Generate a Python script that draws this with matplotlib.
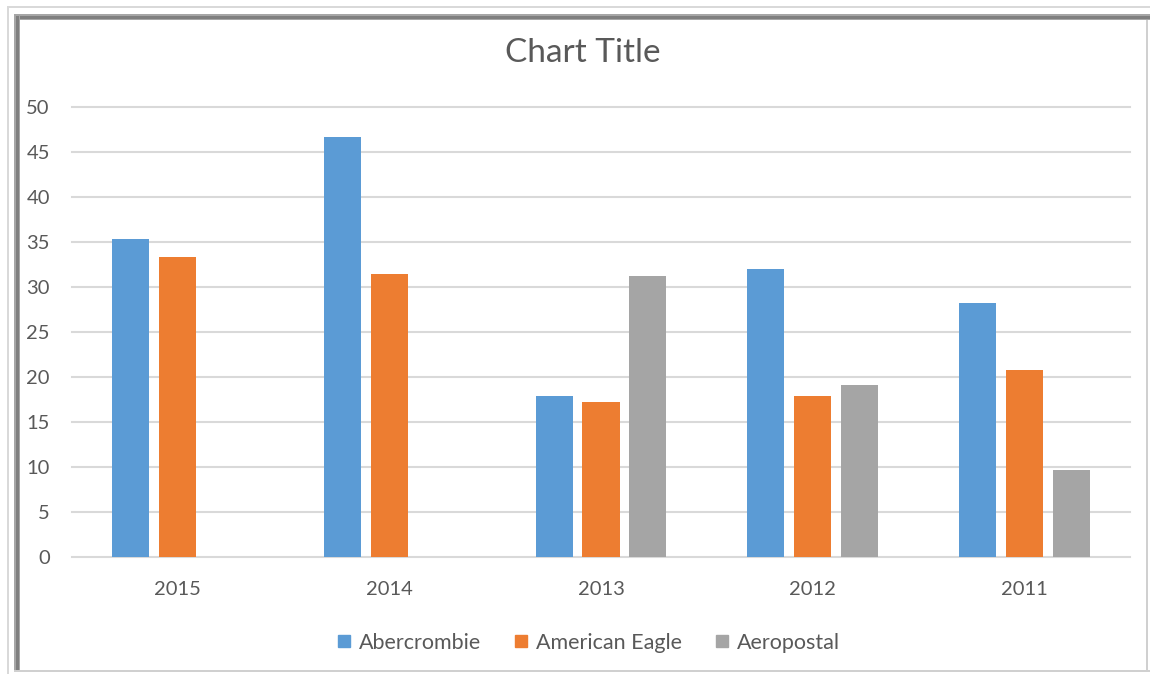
import matplotlib.pyplot as plt
import numpy as np
from matplotlib.lines import Line2D
from matplotlib.patches import Rectangle

years = ["2015", "2014", "2013", "2012", "2011"]
abercrombie = [35.3, 46.7, 17.9, 32.0, 28.2]
american_eagle = [33.3, 31.4, 17.2, 17.9, 20.8]
aeropostal = [0, 0, 31.2, 19.1, 9.7]

series = [
    ("Abercrombie", abercrombie, "#5B9BD5"),
    ("American Eagle", american_eagle, "#ED7D31"),
    ("Aeropostal", aeropostal, "#A5A5A5"),
]

plt.rcParams["font.family"] = ["Lato", "DejaVu Sans"]
text_color = "#595959"

W, H = 1150, 674
fig = plt.figure(figsize=(W / 100, H / 100), dpi=100)

# picture frame
def px(x0, y0, w, h, color, z=0):
    fig.add_artist(Rectangle((x0 / W, 1 - (y0 + h) / H), w / W, h / H,
                             transform=fig.transFigure, color=color, lw=0, zorder=z))

px(7, 6, 1143, 2, "#D9D9D9")
px(7, 6, 2, 668, "#D9D9D9")
px(14, 14, 1136, 6, "#A6A6A6")
px(16, 16, 1134, 3, "#7F7F7F")
px(14, 14, 6, 658, "#A6A6A6")
px(16, 16, 3, 654, "#7F7F7F")
px(1146, 20, 2, 652, "#D0D0D0")
px(14, 670, 1136, 2, "#D0D0D0")

ax = fig.add_axes([72 / W, (H - 557) / H, (1130 - 72) / W, (557 - 107) / H])

x = np.arange(len(years))
width = 0.175
step = 0.222
for i, (name, vals, color) in enumerate(series):
    ax.bar(x + (i - 1) * step, vals, width, color=color, label=name, zorder=3)

ax.set_xlim(-0.5, len(years) - 0.5)
ax.set_ylim(0, 50)
ax.set_yticks(range(0, 51, 5))
ax.set_xticks(x)
ax.set_xticklabels(years)
ax.grid(axis="y", color="#D9D9D9", linewidth=1.5, zorder=0)
for gl in ax.get_ygridlines():
    gl.set_clip_on(False)
for s in ax.spines.values():
    s.set_visible(False)
ax.tick_params(axis="both", length=0, labelsize=14.5, labelcolor=text_color)
ax.tick_params(axis="y", pad=16)
ax.tick_params(axis="x", pad=17)

fig.text(583 / W, 1 - 53 / H, "Chart Title", ha="center", va="center",
         fontsize=24, color=text_color)

handles = [Line2D([], [], marker="s", linestyle="none", markersize=9,
                  markerfacecolor=c, markeredgecolor=c) for _, _, c in series]
fig.legend(handles, [n for n, _, _ in series], loc="center",
           bbox_to_anchor=(588 / W, 1 - 643 / H), ncol=3, frameon=False,
           fontsize=15.5, labelcolor=text_color, handlelength=0.7,
           handletextpad=0.35, columnspacing=1.5)

fig.savefig("out.png", dpi=100)
